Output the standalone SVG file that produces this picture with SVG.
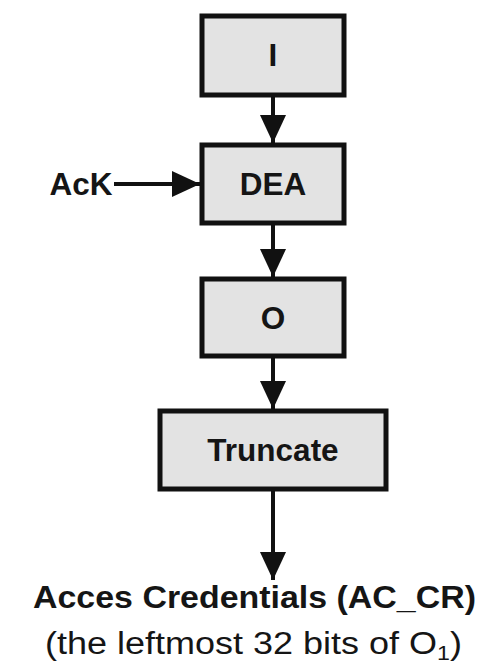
<svg xmlns="http://www.w3.org/2000/svg" width="486" height="664" viewBox="0 0 486 664">
  <style>
    .box { fill: #e3e3e3; stroke: #111; stroke-width: 5; }
    .lbl { font-family: "Liberation Sans", Arial, sans-serif; font-weight: bold; font-size: 31.5px; fill: #151515; text-anchor: middle; }
    .wire { stroke: #111; stroke-width: 4; fill: none; marker-end: url(#head); }
    .cap { font-family: "Liberation Sans", Arial, sans-serif; font-size: 31px; fill: #151515; }
  </style>
  <defs>
    <marker id="head" markerUnits="userSpaceOnUse" markerWidth="28" markerHeight="26" refX="28" refY="13" orient="auto">
      <path d="M0,0 L28,13 L0,26 z" fill="#111"/>
    </marker>
  </defs>
  <rect width="486" height="664" fill="#fff"/>

  <g id="connectors">
    <line class="wire" x1="273" y1="95" x2="273" y2="143"/>
    <line class="wire" x1="114" y1="184" x2="200" y2="184"/>
    <line class="wire" x1="273" y1="223" x2="273" y2="277"/>
    <line class="wire" x1="273" y1="356" x2="273" y2="409"/>
    <line class="wire" x1="273" y1="489" x2="273" y2="580"/>
  </g>

  <g id="node-i">
    <rect class="box" x="202" y="16" width="142" height="79"/>
    <text class="lbl" x="273" y="66">I</text>
  </g>

  <g id="node-ack">
    <text class="lbl" x="81" y="195">AcK</text>
  </g>

  <g id="node-dea">
    <rect class="box" x="202" y="145" width="142" height="78"/>
    <text class="lbl" x="273" y="195">DEA</text>
  </g>

  <g id="node-o">
    <rect class="box" x="202" y="279" width="142" height="77"/>
    <text class="lbl" x="273" y="329">O</text>
  </g>

  <g id="node-truncate">
    <rect class="box" x="160" y="411" width="226" height="78"/>
    <text class="lbl" x="273" y="461">Truncate</text>
  </g>

  <g id="node-output">
    <text class="cap" font-weight="bold" x="33" y="608" textLength="443" lengthAdjust="spacingAndGlyphs">Acces Credentials (AC_CR)</text>
    <text class="cap" x="45" y="654" textLength="417" lengthAdjust="spacingAndGlyphs">(the leftmost 32 bits of O<tspan font-size="20" dy="6">1</tspan><tspan dy="-6">)</tspan></text>
  </g>
</svg>
